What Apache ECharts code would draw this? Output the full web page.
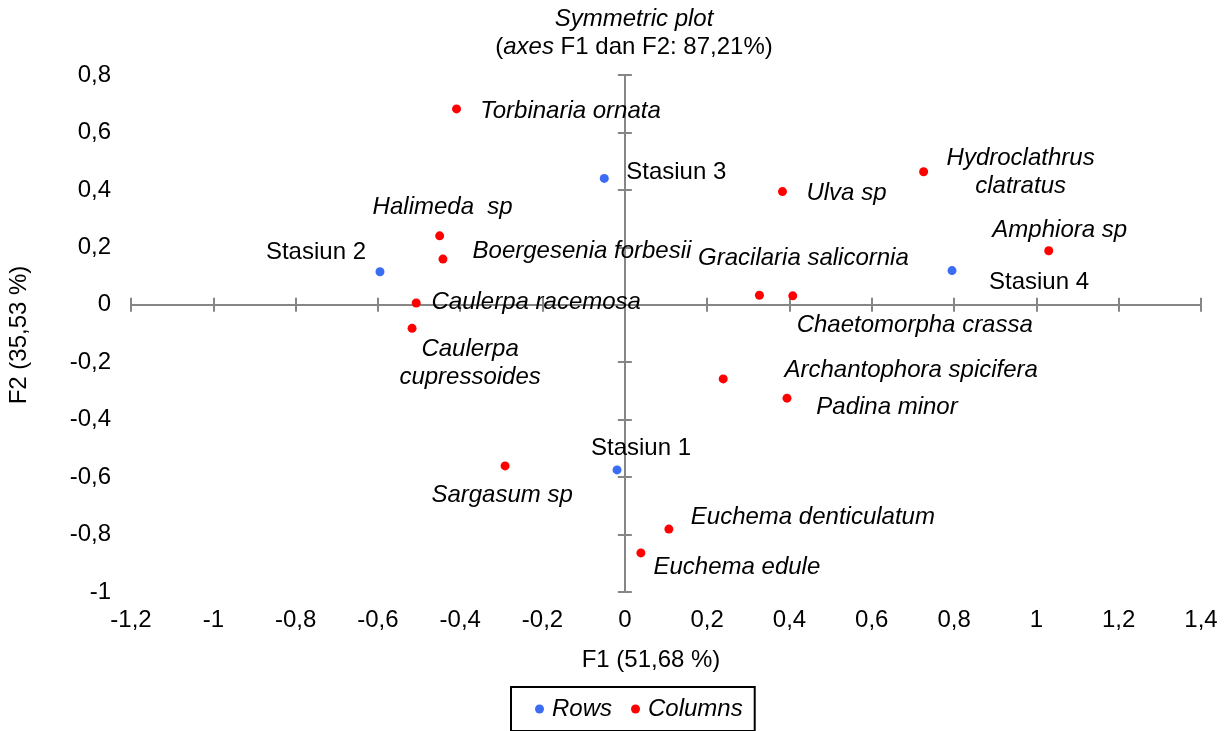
<!DOCTYPE html>
<html>
<head>
<meta charset="utf-8">
<script src="https://cdn.jsdelivr.net/npm/echarts@6/dist/echarts.min.js"></script>
<style>
html,body{margin:0;padding:0;background:#fff;}
#chart{width:1227px;height:731px;}
</style>
</head>
<body>
<div id="chart"></div>
<script>
// ---- Data ----
const rowNames = ['Stasiun 1', 'Stasiun 2', 'Stasiun 3', 'Stasiun 4'];
const rowF1 = [-0.019, -0.595, -0.050, 0.795];
const rowF2 = [-0.575, 0.115, 0.440, 0.119];

const colNames = [
  'Torbinaria ornata', 'Hydroclathrus\nclatratus', 'Ulva sp', 'Amphiora sp',
  'Halimeda  sp', 'Boergesenia forbesii', 'Caulerpa racemosa', 'Caulerpa\ncupressoides',
  'Gracilaria salicornia', 'Chaetomorpha crassa', 'Archantophora spicifera', 'Padina minor',
  'Sargasum sp', 'Euchema denticulatum', 'Euchema edule'
];
const colF1 = [-0.409, 0.726, 0.383, 1.030, -0.450, -0.442, -0.507, -0.517, 0.327, 0.408, 0.239, 0.394, -0.291, 0.107, 0.039];
const colF2 = [0.682, 0.463, 0.394, 0.188, 0.240, 0.159, 0.006, -0.082, 0.033, 0.031, -0.258, -0.325, -0.561, -0.781, -0.864];

const xMin = -1.2, xMax = 1.4, xStep = 0.2;
const yMin = -1, yMax = 0.8, yStep = 0.2;

const titleLine1 = 'Symmetric plot';
const titleLine2 = ['(', 'axes', ' F1 dan F2: 87,21%)'];
const xName = 'F1 (51,68 %)';
const yName = 'F2 (35,53 %)';
const legendNames = ['Rows', 'Columns'];

// ---- Layout (label centre offsets in px relative to the point) ----
const labelOffsets = {
  'Stasiun 1': [24, -22], 'Stasiun 2': [-64, -19], 'Stasiun 3': [72, -6], 'Stasiun 4': [87, 12],
  'Torbinaria ornata': [114, 2], 'Hydroclathrus\nclatratus': [97, 1], 'Ulva sp': [64, 2],
  'Amphiora sp': [11, -20], 'Halimeda  sp': [3, -29], 'Boergesenia forbesii': [139, -8],
  'Caulerpa racemosa': [120, -1], 'Caulerpa\ncupressoides': [58, 35],
  'Gracilaria salicornia': [44, -37], 'Chaetomorpha crassa': [122, 29],
  'Archantophora spicifera': [188, -9], 'Padina minor': [100, 9], 'Sargasum sp': [-3, 29],
  'Euchema denticulatum': [144, -12], 'Euchema edule': [96, 14]
};
const seriesNames = [rowNames, colNames];

const FONT = "'Liberation Sans', Arial, sans-serif";
const FS = 24;
const BLUE = '#3a6cf4';
const RED = '#ff0000';
const AXIS = '#868686';

function fmt(v) {
  const r = Math.round(v * 10) / 10;
  return String(r).replace('.', ',');
}

function buildData(names, xs, ys) {
  return names.map((n, i) => ({ name: n, value: [xs[i], ys[i]] }));
}

function layoutLabel(params) {
  const name = seriesNames[params.seriesIndex][params.dataIndex];
  const off = labelOffsets[name] || [0, 0];
  const cx = params.rect.x + params.rect.width / 2 + off[0];
  const cy = params.rect.y + params.rect.height / 2 + off[1];
  return { x: cx, y: cy, align: 'center', verticalAlign: 'middle', hideOverlap: false };
}

const baseX = { type: 'value', min: xMin, max: xMax, interval: xStep, splitLine: { show: false } };
const baseY = { type: 'value', min: yMin, max: yMax, interval: yStep, splitLine: { show: false } };

const chart = echarts.init(document.getElementById('chart'), null, { renderer: 'canvas' });

const option = {
  backgroundColor: '#fff',
  animation: false,
  textStyle: { fontFamily: FONT },
  grid: { left: 131, right: 26, top: 75, bottom: 139, containLabel: false },
  xAxis: [
    Object.assign({}, baseX, {
      position: 'bottom',
      axisLine: { show: false, onZero: false },
      axisTick: { show: false },
      axisLabel: { formatter: fmt, color: '#000', fontSize: FS, fontFamily: FONT, margin: 16 }
    }),
    Object.assign({}, baseX, {
      position: 'bottom',
      axisLine: { show: true, onZero: true, lineStyle: { color: AXIS, width: 2 } },
      axisTick: { show: true, inside: true, length: 7, lineStyle: { color: AXIS, width: 2 } },
      axisLabel: { show: false }
    }),
    Object.assign({}, baseX, {
      position: 'bottom',
      axisLine: { show: false, onZero: true },
      axisTick: { show: true, inside: false, length: 7, lineStyle: { color: AXIS, width: 2 } },
      axisLabel: { show: false }
    })
  ],
  yAxis: [
    Object.assign({}, baseY, {
      position: 'left',
      axisLine: { show: false, onZero: false },
      axisTick: { show: false },
      axisLabel: { formatter: fmt, color: '#000', fontSize: FS, fontFamily: FONT, margin: 20 }
    }),
    Object.assign({}, baseY, {
      position: 'left',
      axisLine: { show: true, onZero: true, lineStyle: { color: AXIS, width: 2 } },
      axisTick: { show: true, inside: true, length: 7, lineStyle: { color: AXIS, width: 2 } },
      axisLabel: { show: false }
    }),
    Object.assign({}, baseY, {
      position: 'left',
      axisLine: { show: false, onZero: true },
      axisTick: { show: true, inside: false, length: 7, lineStyle: { color: AXIS, width: 2 } },
      axisLabel: { show: false }
    })
  ],
  legend: {
    data: legendNames,
    left: 511, top: 687,
    orient: 'horizontal',
    padding: [10, 12, 10, 24],
    itemGap: 19,
    itemWidth: 9, itemHeight: 9,
    icon: 'circle',
    borderColor: '#000', borderWidth: 2,
    textStyle: { fontSize: FS, fontStyle: 'italic', color: '#000', fontFamily: FONT, padding: [0, 0, 0, 3] }
  },
  graphic: [
    {
      type: 'text', x: 634, y: 19, style: {
        text: titleLine1, font: 'italic ' + FS + 'px ' + FONT, fill: '#000',
        textAlign: 'center', textVerticalAlign: 'middle'
      }
    },
    {
      type: 'text', x: 634, y: 47, style: {
        text: '{n|' + titleLine2[0] + '}{i|' + titleLine2[1] + '}{n|' + titleLine2[2] + '}',
        textAlign: 'center', textVerticalAlign: 'middle',
        rich: {
          n: { fontSize: FS, fontFamily: FONT, fill: '#000', color: '#000' },
          i: { fontSize: FS, fontFamily: FONT, fontStyle: 'italic', fill: '#000', color: '#000' }
        }
      }
    },
    {
      type: 'text', x: 651, y: 660, style: {
        text: xName, font: FS + 'px ' + FONT, fill: '#000',
        textAlign: 'center', textVerticalAlign: 'middle'
      }
    },
    {
      type: 'text', x: 19, y: 335, rotation: Math.PI / 2, style: {
        text: yName, font: FS + 'px ' + FONT, fill: '#000',
        textAlign: 'center', textVerticalAlign: 'middle'
      }
    }
  ],
  series: [
    {
      name: 'Rows', type: 'scatter', xAxisIndex: 0, yAxisIndex: 0,
      symbol: 'circle', symbolSize: 9,
      itemStyle: { color: BLUE, opacity: 1 },
      label: {
        show: true, position: 'inside', formatter: '{b}',
        color: '#000', fontSize: FS, fontFamily: FONT, align: 'center', verticalAlign: 'middle'
      },
      labelLayout: layoutLabel,
      data: buildData(rowNames, rowF1, rowF2),
      z: 5
    },
    {
      name: 'Columns', type: 'scatter', xAxisIndex: 0, yAxisIndex: 0,
      symbol: 'circle', symbolSize: 9,
      itemStyle: { color: RED, opacity: 1 },
      label: {
        show: true, position: 'inside', formatter: '{b}',
        color: '#000', fontSize: FS, fontStyle: 'italic', fontFamily: FONT,
        align: 'center', verticalAlign: 'middle', lineHeight: 28
      },
      labelLayout: layoutLabel,
      data: buildData(colNames, colF1, colF2),
      z: 5
    }
  ]
};

chart.setOption(option);
</script>
</body>
</html>
